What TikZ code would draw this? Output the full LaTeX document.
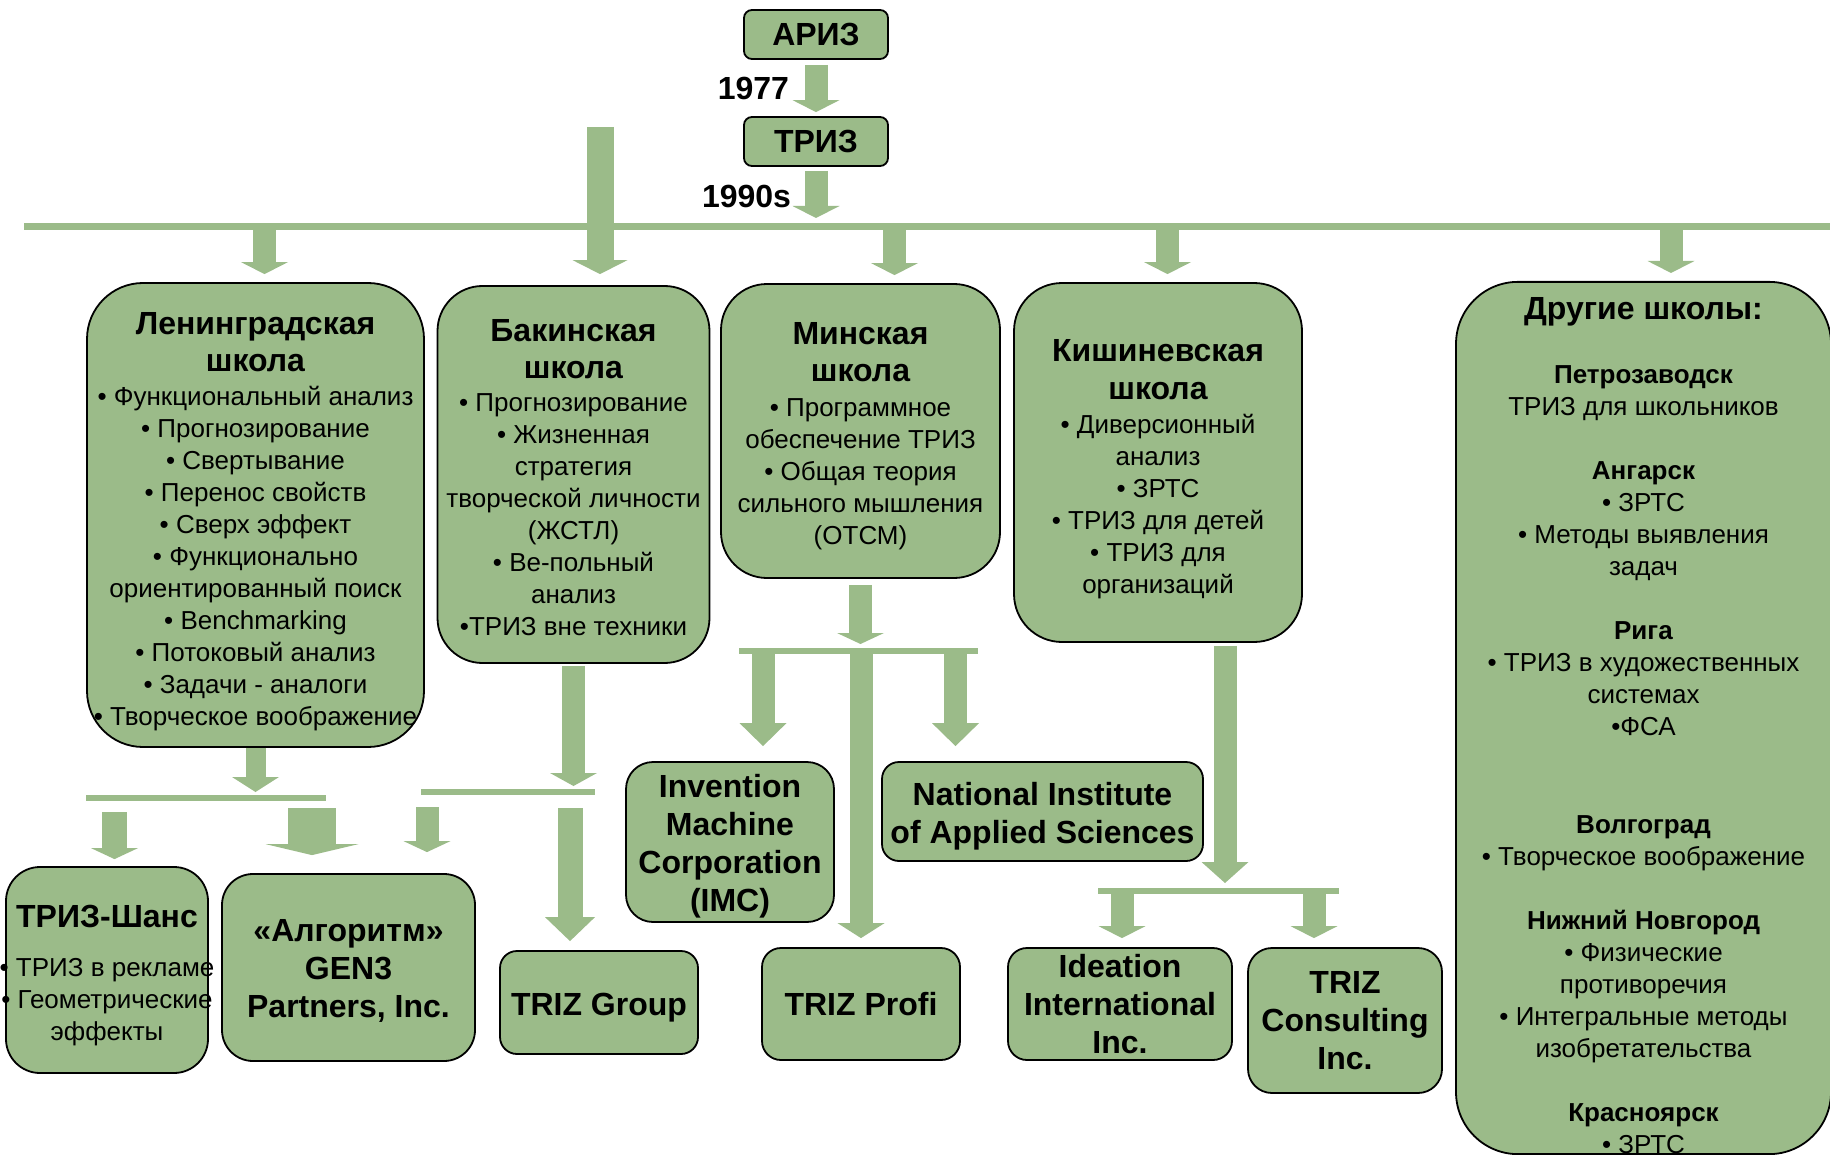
\documentclass[tikz,border=0pt]{standalone}
\usepackage{fontspec}
\setmainfont{Liberation Sans}
\usetikzlibrary{arrows.meta,calc}

\definecolor{sage}{RGB}{155,187,137}

\newcommand{\itemfont}{\fontsize{26}{32}\selectfont\lineskiplimit=-\maxdimen}
\newcommand{\firmfont}{\bfseries\fontsize{32}{38}\selectfont\lineskiplimit=-\maxdimen}
\newcommand{\ttl}[1]{{\bfseries\fontsize{32}{38}\selectfont #1}}
\newcommand{\cty}[1]{\textbf{#1}}
\newcommand{\wideline}[1]{\makebox[0pt]{#1}}
\newcommand{\topgap}[1]{\rule{0pt}{#1}}

\begin{document}
\begin{tikzpicture}[x=1pt,y=-1pt,
    box/.style={rectangle,rounded corners=#1,draw=black,line width=1.8pt,
                fill=sage,inner sep=0pt,align=center},
    school/.style={box=#1,font=\itemfont},
    firm/.style={box=#1,font=\firmfont},
    bus/.style={draw=sage,line width=#1},
    flow/.style={draw=sage,line width=23pt,
                 -{Triangle[width=47pt,length=#1,line width=0pt]}},
    flow/.default=12pt,
    fatflow/.style n args={3}{draw=sage,line width=#1,
                 -{Triangle[width=#2,length=#3,line width=0pt]}},
    year/.style={font=\firmfont,inner sep=0pt,outer sep=0pt}]

  \useasboundingbox (0,0) rectangle (1830,1155);

  % top of the tree
  \node[firm=8pt,minimum width=144pt,minimum height=49pt] (ariz) at (816,34.5) {АРИЗ};
  \node[firm=8pt,minimum width=144pt,minimum height=49pt] (triz) at (816,141.5) {ТРИЗ};

  % schools
  \node[school=56pt,minimum width=337pt,minimum height=464pt] (len) at (255.5,515)
    {\ttl{\topgap{35pt}Ленинградская}\\[5pt]
     \ttl{школа}\\[2pt]
     • Функциональный анализ\\
     • Прогнозирование\\
     • Свертывание\\
     • Перенос свойств\\
     • Сверх эффект\\
     • Функционально\\
     ориентированный поиск\\
     • Benchmarking\\
     • Потоковый анализ\\
     • Задачи - аналоги\\
     \wideline{• Творческое воображение}};
  \node[school=45pt,minimum width=272pt,minimum height=377pt] (baku) at (573.5,474.5)
    {\ttl{\topgap{28pt}Бакинская}\\[5pt]
     \ttl{школа}\\[1pt]
     • Прогнозирование\\
     • Жизненная\\
     стратегия\\
     творческой личности\\
     (ЖСТЛ)\\
     • Ве-польный\\
     анализ\\
     •ТРИЗ вне техники};
  \node[school=46pt,minimum width=279pt,minimum height=294pt] (minsk) at (860.5,431)
    {\ttl{\topgap{32.5pt}Минская}\\[5pt]
     \ttl{школа}\\[3pt]
     • Программное\\
     обеспечение ТРИЗ\\
     • Общая теория\\
     сильного мышления\\
     (ОТСМ)};
  \node[school=48pt,minimum width=288pt,minimum height=359pt] (kish) at (1158,462.5)
    {\ttl{\topgap{36pt}Кишиневская}\\[6pt]
     \ttl{школа}\\[2pt]
     • Диверсионный\\
     анализ\\
     • ЗРТС\\
     • ТРИЗ для детей\\
     • ТРИЗ для\\
     организаций};
  \node[school=62pt,minimum width=375pt,minimum height=870pt] (others) at (1643.5,718)
    {\ttl{\topgap{38pt}Другие школы:}\\[32pt]
     \cty{Петрозаводск}\\
     ТРИЗ для школьников\\[32pt]
     \cty{Ангарск}\\
     • ЗРТС\\
     • Методы выявления\\
     задач\\[32pt]
     \cty{Рига}\\
     • ТРИЗ в художественных\\
     системах\\
     •ФСА\\[66pt]
     \cty{Волгоград}\\
     • Творческое воображение\\[32pt]
     \cty{Нижний Новгород}\\
     • Физические\\
     противоречия\\
     • Интегральные методы\\
     изобретательства\\[32pt]
     \cty{Красноярск}\\
     • ЗРТС};

  % companies
  \node[school=34pt,minimum width=202pt,minimum height=206pt] (chance) at (107,970)
    {\ttl{\topgap{32.5pt}ТРИЗ-Шанс}\\[17pt]
     \wideline{• ТРИЗ в рекламе}\\
     \wideline{• Геометрические}\\
     эффекты};
  \node[firm=31pt,minimum width=253pt,minimum height=187pt] (algo) at (348.5,967.5)
    {\topgap{29pt}«Алгоритм»\\GEN3\\Partners, Inc.};
  \node[firm=17pt,minimum width=198pt,minimum height=103pt] (group) at (599,1002.5)
    {\topgap{32.5pt}TRIZ Group};
  \node[firm=27pt,minimum width=208pt,minimum height=160pt] (imc) at (730,842)
    {\topgap{31pt}Invention\\Machine\\Corporation\\(IMC)};
  \node[firm=17pt,minimum width=321pt,minimum height=99pt] (nias) at (1042.5,811.5)
    {\topgap{32.5pt}National Institute\\of Applied Sciences};
  \node[firm=19pt,minimum width=198pt,minimum height=112pt] (profi) at (861,1004) {TRIZ Profi};
  \node[firm=19pt,minimum width=224pt,minimum height=112pt] (ideation) at (1120,1004)
    {Ideation\\International\\Inc.};
  \node[firm=24pt,minimum width=194pt,minimum height=145pt] (consult) at (1345,1020.5)
    {TRIZ\\Consulting\\Inc.};

  % bars
  \coordinate (busW) at (24,226.5);
  \coordinate (busE) at (1830,226.5);
  \coordinate (lenbusW) at (86,798);
  \coordinate (lenbusE) at (326,798);
  \coordinate (bakubusW) at (421,792);
  \coordinate (bakubusE) at (595,792);
  \coordinate (minskbusW) at (739,651);
  \coordinate (minskbusE) at (978,651);
  \coordinate (kishbusW) at (1098,890.5);
  \coordinate (kishbusE) at (1339,890.5);
  \coordinate (bakuTop) at (600,127);

  \draw[bus=7pt] (busW) -- (busE);
  \foreach \b in {lenbus,bakubus,minskbus,kishbus}
    \draw[bus=6pt] (\b W) -- (\b E);

  % arrows
  \draw[flow,shorten <=5pt,shorten >=4pt] (ariz) -- node[year,left=27pt] {1977} (triz);
  \draw[flow,shorten <=4pt,shorten >=8.5pt] (triz) -- node[year,left=25pt] {1990s} (triz |- busW);

  \foreach \n/\dx in {len/9,minsk/34,kish/9.5,others/27.5}
    \draw[flow,shorten >=8pt] ($(\n.north |- busW)+(\dx,0)$) -- ($(\n.north)+(\dx,0)$);
  \draw[fatflow={27pt}{55pt}{14pt},shorten >=11pt] (bakuTop) -- (bakuTop |- baku.north);

  \draw[flow=15pt,line width=20pt,shorten >=6pt] (len) -- (len |- lenbusW);
  \draw[flow=11pt,line width=25pt,shorten <=14pt,shorten >=7pt]
    ($(chance.north |- lenbusW)+(7.5,0)$) -- ($(chance.north)+(7.5,0)$);
  \draw[fatflow={48pt}{93pt}{11pt},shorten <=10pt,shorten >=18pt]
    ($(algo.north |- lenbusW)+(-36.5,0)$) -- ($(algo.north)+(-36.5,0)$);

  \draw[flow=13pt,shorten <=2pt,shorten >=6pt] (baku) -- (baku |- bakubusW);
  \draw[flow=11pt,shorten <=15pt,shorten >=21pt]
    ($(algo.north |- bakubusW)+(78.5,0)$) -- ($(algo.north)+(78.5,0)$);
  \draw[fatflow={25pt}{50pt}{24pt},shorten <=16pt,shorten >=9pt]
    ($(group.north |- bakubusW)+(-29,0)$) -- ($(group.north)+(-29,0)$);

  \draw[flow=11pt,shorten <=6pt,shorten >=7pt] (minsk) -- (minsk |- minskbusW);
  \draw[flow=23pt,shorten >=15pt] ($(imc.north |- minskbusW)+(33,0)$) -- ($(imc.north)+(33,0)$);
  \draw[flow=23pt,shorten >=15pt] ($(nias.north |- minskbusW)+(-87,0)$) -- ($(nias.north)+(-87,0)$);
  \draw[flow=15pt,shorten >=9pt] (profi |- minskbusW) -- (profi);

  \draw[flow=21pt,shorten <=3pt,shorten >=7.5pt]
    ($(kish.south)+(67,0)$) -- ($(kish.south |- kishbusW)+(67,0)$);
  \draw[flow,shorten >=9pt] ($(ideation.north |- kishbusW)+(2,0)$) -- ($(ideation.north)+(2,0)$);
  \draw[flow,shorten >=9pt] ($(consult.north |- kishbusW)+(-31,0)$) -- ($(consult.north)+(-31,0)$);
\end{tikzpicture}
\end{document}
